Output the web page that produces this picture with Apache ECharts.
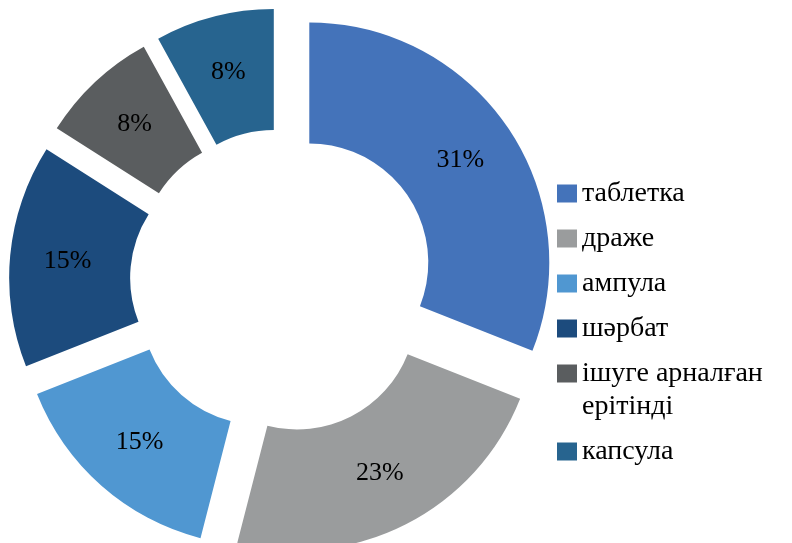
<!DOCTYPE html>
<html>
<head>
<meta charset="utf-8">
<script src="https://cdn.jsdelivr.net/npm/echarts@6/dist/echarts.min.js"></script>
<style>html,body{margin:0;padding:0;background:#fff;}#c{width:792px;height:543px;}</style>
</head>
<body>
<div id="c"></div>
<script>
const categories = ['таблетка', 'драже', 'ампула', 'шәрбат', 'ішуге арналған ерітінді', 'капсула'];
const values = [31, 23, 15, 15, 8, 8];
const colors = ['#4473BA', '#9A9C9D', '#5097D1', '#1C4B7D', '#5A5D5F', '#27648F'];
const wrapName = 'ішуге арналған ерітінді';

const chart = echarts.init(document.getElementById('c'));
const data = categories.map((n, i) => ({
  name: n,
  value: values[i],
  selected: true,
  itemStyle: { color: colors[i] },
  select: { itemStyle: { color: colors[i], borderWidth: 0 } }
}));
const legendData = categories.map((n) => n === wrapName
  ? { name: n, icon: 'none', textStyle: { padding: [0, 0, 0, -25] } }
  : { name: n });
chart.setOption({
  animation: false,
  backgroundColor: '#fff',
  legend: {
    orient: 'vertical',
    left: 557,
    top: 177,
    padding: 0,
    itemWidth: 20,
    itemHeight: 18,
    itemGap: 12,
    icon: 'rect',
    selectedMode: false,
    data: legendData,
    formatter: function (name) {
      return name === wrapName ? '{sq|}{sp|}ішуге арналған\n{sp2|}ерітінді' : name;
    },
    textStyle: {
      fontFamily: 'Liberation Serif', fontSize: 28, lineHeight: 33, color: '#000',
      rich: {
        sq: { width: 20, height: 18, backgroundColor: colors[categories.indexOf(wrapName)] },
        sp: { width: 5 },
        sp2: { width: 25 }
      }
    }
  },
  series: [{
    type: 'pie',
    center: [282, 281],
    radius: [119, 240],
    startAngle: 90,
    clockwise: true,
    selectedMode: 'multiple',
    selectedOffset: 33,
    emphasis: { disabled: true },
    label: {
      show: true,
      position: 'inside',
      formatter: '{c}%',
      fontFamily: 'Liberation Serif',
      fontSize: 26,
      color: '#000'
    },
    labelLine: { show: false },
    data: data
  }]
});
</script>
</body>
</html>
